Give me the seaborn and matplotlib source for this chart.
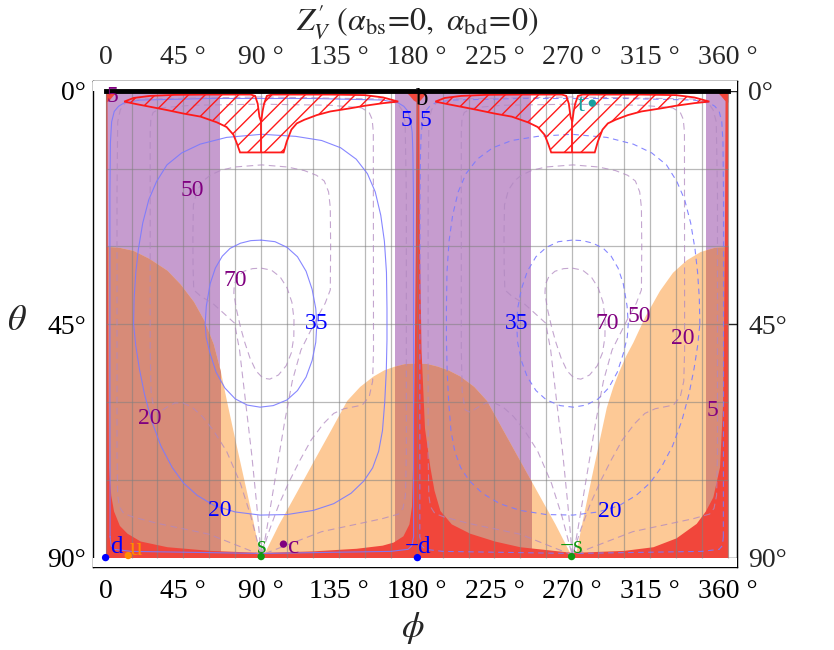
import numpy as np
import matplotlib
matplotlib.use("Agg")
import matplotlib.pyplot as plt
from matplotlib.patches import Rectangle
import seaborn as sns

# ---------------- data ----------------
x_ticks = [0, 45, 90, 135, 180, 225, 270, 315, 360]
x_tick_labels = ["0", "45 °", "90 °", "135 °", "180 °", "225 °", "270 °", "315 °", "360 °"]
y_ticks = [0, 45, 90]
y_tick_labels = ["0°", "45°", "90°"]
grid_phi = [15 * i for i in range(25)]
grid_theta = [15, 30, 45, 60, 75]

band_start = [0, 167.4, 347.1]
band_end = [66.3, 246.4, 360]

orange_phi = [0, 8, 16, 25, 35.5, 43, 50.8, 57, 62.3, 66.3, 70.1, 75, 80, 85, 89.5,
              90.5, 100, 110, 120, 130, 139.5, 147, 154.7, 161, 167, 173, 179.5, 186, 192,
              198, 205, 213, 220.4, 230, 240, 250, 260, 270, 271.5, 276, 281, 285.5, 289.7,
              293.5, 297, 301, 305, 312, 320.5, 328, 336, 344, 352, 360]
orange_theta = [30, 30.2, 30.8, 32.3, 34.6, 37.2, 40.6, 44.3, 48.8, 53.9, 60, 67.5, 75, 82.5, 90,
                90, 83.6, 77.6, 71.5, 65.5, 59.7, 57, 55, 53.8, 53.1, 52.6, 52.5, 52.6, 53.1,
                53.8, 55, 57, 59.7, 65.5, 71.5, 77.5, 83.5, 90, 90, 82.5, 74.5, 67.5, 61,
                57, 54, 51, 48.5, 43.5, 38.5, 35, 32.6, 31, 30.2, 30]

red_phi = [0, 0.8, 1.0, 1.3, 1.7, 3, 4.6, 8, 12.4, 20, 35.5, 60, 90, 120, 145, 160, 166.4,
           172, 175.5, 177, 177.8, 178.5, 179.2, 179.6, 181.2, 181.6, 182.5, 184.5, 187.6,
           190, 193.4, 200, 210.7, 225, 239.6, 270, 300, 316.7, 330, 341.7, 347, 351.3,
           355.2, 357, 358, 358.4, 360]
red_theta = [0, 0, 30, 55, 72.5, 78, 81, 83.8, 85.3, 86.8, 87.9, 88.6, 89, 88.7, 88.2, 87.6,
             87, 85.8, 83.5, 80, 70, 55, 30, 0, 0, 30, 50, 65, 72.5, 77, 80.9, 83.5, 85.3,
             86.8, 87.9, 89, 88.6, 87.9, 86.2, 83.4, 81, 78.3, 72.5, 60, 30, 0, 0]
red_top_phi = [0, 2, 4, 6, 174, 176, 178, 180, 182, 184, 186, 354, 356, 358, 360]
red_top_theta = [2.2, 1.8, 1.0, 0.3, 0.3, 1.0, 1.8, 2.2, 1.8, 1.0, 0.3, 0.3, 1.0, 1.8, 2.2]

hatch_phi = [10.8, 16.2, 25.8, 40, 60, 84, 86.5, 88, 89, 90, 90.8, 91.7, 93.3, 96, 130,
             150, 160.6, 169.3, 160.6, 150, 141.4, 130, 122.2, 115, 110.6, 107.5, 104.8,
             103.0, 77.8, 76, 74, 70, 64.4, 55, 45, 35, 25.8, 18]
hatch_theta = [2.1, 1.4, 1.0, 0.8, 0.75, 0.75, 1.0, 2.5, 5.0, 6.0, 4.0, 2.5, 1.0, 0.75, 0.75,
               0.85, 1.3, 2.1, 2.4, 2.9, 3.4, 4.0, 4.7, 5.6, 6.3, 7.5, 9.8,
               11.9, 11.9, 10.2, 8.5, 7.0, 6.1, 5.0, 4.4, 3.7, 3.1, 2.6]
hatch_shift = [0, 180]
notch_theta = [6.0, 11.9]

# blue contours (left half solid, mirrored dashed on right half)
b5_phi = [2.6, 2.5, 2.5, 2.8, 3.5, 5, 7.5, 11, 20, 60, 120, 160, 169, 172.5, 175, 176.5,
          177.4, 177.8, 178.1, 178.2, 178.2, 177.2, 175, 165, 90, 15, 5, 3.2, 2.6]
b5_theta = [86, 60, 20, 10, 6, 4, 3, 2.3, 1.8, 1.5, 1.5, 1.8, 2.3, 3, 4, 6,
            8, 12, 20, 60, 86, 87.7, 88.4, 88.8, 89.2, 88.8, 88.4, 87.7, 86]
b20_phi = [16.2, 16.5, 17.5, 19, 21.5, 25, 29.5, 35.5, 44, 54.7, 70, 90.4, 110, 125, 136, 145,
           151.5, 156, 159.2, 161.3, 162.5, 162.8, 162.8, 162.4, 161.5, 160.2, 158, 154.5,
           149.5, 142, 132, 120.2, 105, 89.4, 75, 63, 53, 45, 38.5, 32, 26.5, 22.5, 19.5,
           17.4, 16.2]
b20_theta = [45, 40, 35, 30.5, 25.5, 21, 17.5, 14.3, 12, 10.3, 9, 8.4, 8.8, 9.6, 11, 13.2,
             16, 19.5, 24, 29, 35, 42, 48, 54, 60, 65.5, 69.5, 72.7,
             75.2, 77.6, 79.6, 80.9, 81.7, 81.8, 81.2, 80, 78, 75.6, 72.6, 68.5, 63.5, 58.5, 53.5,
             49, 45]
b35_phi = [90, 98, 105, 111, 116, 119.5, 121.6, 122.2, 121.6, 119.5, 116, 111, 105, 97, 89.4,
           82, 75, 69, 64, 60.5, 58.2, 57.6, 58.3, 60.5, 63.5, 67.5, 72, 78, 84, 90]
b35_theta = [28.8, 29.1, 30.2, 32, 34.8, 38.3, 42, 45, 48.5, 52, 55.2, 57.8, 59.6, 60.7, 61,
             60.6, 59.4, 57.3, 54.3, 50.7, 47.5, 44.9, 41.5, 37.2, 34.2, 31.9, 30.4, 29.4, 28.9, 28.8]

# purple dashed contours (left half; repeated at +180)
p5_phi = [90, 60, 30, 16.2, 10.5, 8, 7, 6.6, 6.6, 7, 8.5, 11, 20, 90, 160, 169, 171.5, 173.3,
          174, 174, 173.5, 172, 169.5, 160, 125, 90]
p5_theta = [89.5, 85.5, 83.4, 82.2, 81.5, 80.2, 78, 70, 20, 6, 3.7, 2.5, 1.6, 1.2, 1.6, 2.5,
            3.7, 6, 20, 70, 78, 80.5, 81.6, 82.5, 85, 89.5]
p20_phi = [89.5, 84, 78, 70, 62.4, 56, 50, 45, 40, 35.5, 31, 28, 26.3, 25.8, 25.8, 26.2, 27.5,
           32, 50, 90, 130, 148, 152.5, 154.2, 154.9, 155, 154.5, 152.5, 148.5, 144, 138, 132,
           126, 119, 112.5, 106, 100, 95, 90.6]
p20_theta = [89, 82, 75.7, 69.5, 65.5, 62.8, 61, 60.2, 60.2, 61, 62, 61.5, 58, 50, 8, 5.5, 4.2,
             3.3, 2.8, 2.6, 2.8, 3.3, 4.2, 5.5, 8, 50, 56, 59, 60.6, 60.9, 61.3, 62.2,
             64.2, 67.3, 71.2, 75.5, 80, 84.5, 89]
p50_phi = [90, 87.5, 84.5, 81, 77.5, 74.6, 68, 62, 55, 51, 50.6, 50.5, 50.8, 53, 56.5, 60.5, 67,
           75, 90.4, 105, 115, 122, 126.5, 129, 130, 130.2, 130, 127, 122, 117.5, 113, 108, 103.5,
           99.5, 96, 93, 90.6]
p50_theta = [89.5, 80, 70, 60, 50, 44.8, 42.8, 41, 39.6, 38.4, 34, 28, 22, 19.2, 17.4, 16.3, 15.3,
             14.7, 14.3, 14.7, 15.4, 16.3, 17.4, 19.5, 22.5, 30, 38.4, 41, 44, 47, 50, 56, 64,
             72, 79, 85, 89.5]
p70_phi = [90, 96, 101, 105, 107.8, 109, 108.9, 107.5, 104.5, 100, 95, 91, 87, 83.5, 80.5, 78,
           75.6, 74.2, 74.5, 76.5, 80, 85, 90]
p70_theta = [34.2, 34.6, 35.9, 38, 40.8, 44, 47.5, 50.5, 53, 54.8, 55.6, 55.4, 54, 51.5, 48.5,
             45.5, 42, 39, 37.3, 35.8, 34.8, 34.3, 34.2]

# contour labels
blue_lab_text = ["5", "5", "35", "35", "20", "20"]
blue_lab_phi = [174.2, 184.9, 122.2, 237.7, 66.3, 291.6]
blue_lab_theta = [5.8, 5.8, 44.8, 44.8, 80.9, 81.2]
purple_lab_text = ["5", "5", "50", "50", "70", "70", "20", "20"]
purple_lab_phi = [3.9, 351.1, 50.1, 308.9, 75.0, 290.5, 25.8, 334.0]
purple_lab_theta = [1.2, 61.6, 19.2, 43.6, 36.5, 44.8, 63.1, 47.7]

# points (quark directions)
dot_name = ["d", "u", "s", "c", "-d", "-s", "t"]
dot_phi = [0, 13.1, 90, 102.9, 180.4, 269.6, 281.6]
dot_theta = [90, 89.6, 89.8, 87.4, 90, 89.8, 2.4]
dot_color = ["#0000ff", "#ff8c00", "#119911", "#800080", "#0000ff", "#119911", "#1aa0a0"]
pt_text = ["d", "u", "s", "c", "−d", "−s", "b", "t"]
pt_phi = [6.3, 17.3, 90.4, 108.6, 180.7, 269.7, 182.8, 275.3]
pt_theta = [88.0, 88.3, 88.0, 88.0, 88.0, 88.0, 1.6, 2.8]
pt_color = ["#0000ff", "#ff8c00", "#119911", "#800080", "#0000ff", "#119911", "#000000", "#1aa0a0"]

# ---------------- style ----------------
sns.set_style("white")
plt.rcParams['font.family'] = ['Liberation Serif', 'DejaVu Serif']
plt.rcParams['mathtext.fontset'] = 'stix'
plt.rcParams['hatch.linewidth'] = 1.0

PURPLE = "#c69ccf"
ORANGE = "#fdc996"
OVERLAP = "#d78b78"
RED = "#f1463b"
BLUE_LINE = "#7a7aff"
PURP_LINE = "#b088c0"

fig = plt.figure(figsize=(8.34, 6.5), dpi=100)
ax = fig.add_axes([93 / 834, (650 - 567) / 650, (737 - 93) / 834, (567 - 81) / 650])
ax.set_xlim(-7.28, 365.3)
ax.set_ylim(91.81, -1.87)

# purple bands
for s, e in zip(band_start, band_end):
    ax.axvspan(s, e, color=PURPLE, lw=0, zorder=1)
# orange region and its overlap with the bands
ax.fill_between(orange_phi, orange_theta, 90, color=ORANGE, lw=0, zorder=2)
for s, e in zip(band_start, band_end):
    poly = ax.fill_between(orange_phi, orange_theta, 90, color=OVERLAP, lw=0, zorder=3)
    poly.set_clip_path(Rectangle((s, 0), e - s, 90, transform=ax.transData))
# red region
ax.fill_between(red_phi, red_theta, 90, color=RED, lw=0, zorder=4)
ax.fill_between(red_top_phi, 0, red_top_theta, color=RED, lw=0, zorder=4)
# white padding outside the data range
ax.axhspan(90, 91.81, color="white", lw=0, zorder=4.5)
ax.axhspan(-1.87, 0, color="white", lw=0, zorder=4.5)

# grid
ax.vlines(grid_phi, 0, 90, colors="#808080", lw=0.9, alpha=0.55, zorder=5)
ax.hlines(grid_theta, 0, 360, colors="#808080", lw=0.9, alpha=0.55, zorder=5)


def curve(px, py, color, ls, lw=0.9, alpha=0.9):
    sns.lineplot(x=px, y=py, sort=False, estimator=None, color=color, linestyle=ls,
                 linewidth=lw, alpha=alpha, ax=ax, zorder=6)


for cp, ct in [(b5_phi, b5_theta), (b20_phi, b20_theta), (b35_phi, b35_theta)]:
    curve(cp, ct, BLUE_LINE, "-", 0.8, 0.9)
    curve([360 - p for p in cp], ct, BLUE_LINE, (0, (5, 4)), 0.8, 0.9)
for cp, ct in [(p5_phi, p5_theta), (p20_phi, p20_theta), (p50_phi, p50_theta), (p70_phi, p70_theta)]:
    for sh in hatch_shift:
        curve([p + sh for p in cp], ct, PURP_LINE, (0, (6, 4)), 0.8, 0.75)

# hatched shapes
for sh in hatch_shift:
    ax.fill([p + sh for p in hatch_phi], hatch_theta, facecolor="none", edgecolor="#ff1a1a",
            hatch="//", lw=1.3, zorder=7)
    ax.plot([90 + sh, 90 + sh], notch_theta, color="#ff1a1a", lw=1.3, zorder=7)

# black top line
ax.plot([0, 360], [0, 0], color="black", lw=3.5, solid_capstyle="projecting", zorder=8)

# labels
for t, p, th in zip(blue_lab_text, blue_lab_phi, blue_lab_theta):
    ax.text(p, th, t, color="#0000ff", fontsize=17, ha="center", va="center", zorder=9)
for t, p, th in zip(purple_lab_text, purple_lab_phi, purple_lab_theta):
    ax.text(p, th, t, color="#800080", fontsize=17, ha="center", va="center", zorder=9)

sns.scatterplot(x=dot_phi, y=dot_theta, hue=dot_name, palette=dict(zip(dot_name, dot_color)),
                s=28, linewidth=0, legend=False, ax=ax, zorder=10, clip_on=False)
for t, p, th, c in zip(pt_text, pt_phi, pt_theta, pt_color):
    ax.text(p, th, t, color=c, fontsize=18, ha="center", va="center", zorder=9)

# axes / ticks
for sp in ax.spines.values():
    sp.set_color("black")
    sp.set_linewidth(1.0)
ax.set_xticks(x_ticks, x_tick_labels)
ax.set_yticks(y_ticks, y_tick_labels)
ax.tick_params(axis="both", direction="in", length=7, width=1, labelsize=20, colors="black")
ax.tick_params(axis="x", pad=9)
ax.tick_params(axis="y", pad=5)

secx = ax.secondary_xaxis("top")
secx.set_xticks(x_ticks, x_tick_labels)
secx.tick_params(direction="in", length=7, width=1, labelsize=20, pad=8)
secy = ax.secondary_yaxis("right")
secy.set_yticks(y_ticks, y_tick_labels)
secy.tick_params(direction="in", length=7, width=1, labelsize=20, pad=8)

fig.text(413 / 834, 1 - 628 / 650, r"$\phi$", fontsize=26, ha="center", va="center")
fig.text(17 / 834, 1 - 322 / 650, r"$\theta$", fontsize=26, ha="center", va="center")
fig.text(0.5, 1 - 22 / 650, r"$Z^{\prime}_{V}\ (\alpha_{\mathrm{bs}}\!=\!0,\ \alpha_{\mathrm{bd}}\!=\!0)$",
         fontsize=23, ha="center", va="center")

fig.savefig("out.png", dpi=100)
